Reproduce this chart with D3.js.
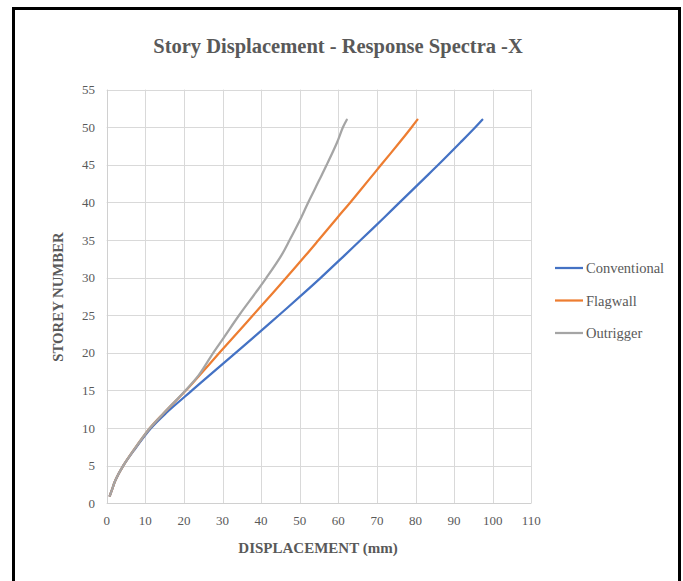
<!DOCTYPE html>
<html>
<head>
<meta charset="utf-8">
<script src="https://cdn.jsdelivr.net/npm/d3@7"></script>
<style>
  html, body { margin: 0; padding: 0; background: #fff; }
  svg { display: block; }
</style>
</head>
<body>
<svg id="chart" width="683" height="581"></svg>
<script>
// ---- data ----
const storeys      = [1, 2, 3, 5, 7, 10, 12, 15, 17, 20, 22, 25, 28, 30, 33, 35, 38, 40, 43, 45, 48, 50, 51];
const conventional = [0.8, 1.5, 2.2, 4.3, 7.0, 11.5, 15.4, 22.1, 26.6, 33.4, 37.9, 44.6, 51.2, 55.5, 61.7, 65.8, 71.9, 75.9, 81.9, 85.9, 91.7, 95.5, 97.3];
const flagwall     = [0.8, 1.5, 2.2, 4.3, 6.9, 11.2, 14.8, 20.5, 24.0, 29.2, 32.7, 37.9, 43.1, 46.5, 51.6, 54.9, 59.8, 63.1, 67.9, 71.1, 75.9, 79.0, 80.5];
const outrigger    = [0.8, 1.5, 2.2, 4.3, 6.9, 11.2, 14.8, 20.4, 23.8, 27.6, 30.3, 34.3, 38.6, 41.4, 45.3, 47.4, 50.4, 52.2, 55.1, 57.0, 59.7, 61.2, 62.2];
const seriesNames  = ["Conventional", "Flagwall", "Outrigger"];
const seriesColors = ["#4472C4", "#ED7D31", "#A5A5A5"];
const xTicks = [0, 10, 20, 30, 40, 50, 60, 70, 80, 90, 100, 110];
const yTicks = [0, 5, 10, 15, 20, 25, 30, 35, 40, 45, 50, 55];
const titleText = "Story Displacement - Response Spectra -X";
const xTitle = "DISPLACEMENT (mm)";
const yTitle = "STOREY NUMBER";

const svg = d3.select("#chart");
const font = "'Liberation Serif', 'Times New Roman', serif";
const textColor = "#595959";

// frame
svg.append("path")
  .attr("d", "M13.5,590 L13.5,8.5 L679.5,8.5 L679.5,590")
  .attr("fill", "none").attr("stroke", "#000").attr("stroke-width", 3);

const x = d3.scaleLinear().domain([0, 110]).range([106.7, 531.3]);
const y = d3.scaleLinear().domain([0, 55]).range([503.3, 89.6]);

// grid
const g = svg.append("g");
g.selectAll(".vg").data(xTicks.slice(1)).join("line")
  .attr("x1", d => Math.round(x(d)) + 0.5).attr("x2", d => Math.round(x(d)) + 0.5)
  .attr("y1", y(55)).attr("y2", y(0))
  .attr("stroke", "#d9d9d9").attr("stroke-width", 1);
g.selectAll(".hg").data(yTicks.slice(1)).join("line")
  .attr("x1", x(0)).attr("x2", x(110))
  .attr("y1", d => Math.round(y(d)) + 0.5).attr("y2", d => Math.round(y(d)) + 0.5)
  .attr("stroke", "#d9d9d9").attr("stroke-width", 1);
// axis lines
g.append("line").attr("x1", Math.round(x(0)) + 0.5).attr("x2", Math.round(x(0)) + 0.5)
  .attr("y1", y(55)).attr("y2", y(0)).attr("stroke", "#d0d0d0");
g.append("line").attr("x1", x(0)).attr("x2", x(110))
  .attr("y1", Math.round(y(0)) + 0.5).attr("y2", Math.round(y(0)) + 0.5).attr("stroke", "#d0d0d0");

// tick labels
svg.append("g").selectAll("text").data(yTicks).join("text")
  .attr("x", 95).attr("y", d => y(d) + 4.5)
  .attr("text-anchor", "end")
  .attr("font-family", font).attr("font-size", 13).attr("fill", textColor)
  .text(d => d);
svg.append("g").selectAll("text").data(xTicks).join("text")
  .attr("x", d => x(d)).attr("y", 525)
  .attr("text-anchor", "middle")
  .attr("font-family", font).attr("font-size", 13).attr("fill", textColor)
  .text(d => d);

// titles
svg.append("text").attr("x", 338).attr("y", 53).attr("text-anchor", "middle")
  .attr("font-family", font).attr("font-size", 20.5).attr("font-weight", "bold").attr("fill", textColor)
  .text(titleText);
svg.append("text").attr("x", 318).attr("y", 553).attr("text-anchor", "middle")
  .attr("font-family", font).attr("font-size", 15).attr("font-weight", "bold").attr("fill", textColor)
  .text(xTitle);
svg.append("text").attr("transform", "translate(63,297) rotate(-90)").attr("text-anchor", "middle")
  .attr("font-family", font).attr("font-size", 14.8).attr("font-weight", "bold").attr("fill", textColor)
  .text(yTitle);

// lines
const seriesValues = [conventional, flagwall, outrigger];
const line = d3.line().x(d => x(d[0])).y(d => y(d[1])).curve(d3.curveCatmullRom.alpha(0.5));
seriesValues.forEach((vals, i) => {
  const pts = storeys.map((s, j) => [vals[j], s]);
  svg.append("path").datum(pts)
    .attr("d", line).attr("fill", "none")
    .attr("stroke", seriesColors[i]).attr("stroke-width", 2.25)
    .attr("stroke-linecap", "round").attr("stroke-linejoin", "round");
});

// legend
const legendY = [268, 300.5, 333];
const lg = svg.append("g");
seriesNames.forEach((name, i) => {
  lg.append("line").attr("x1", 555).attr("x2", 583).attr("y1", legendY[i]).attr("y2", legendY[i])
    .attr("stroke", seriesColors[i]).attr("stroke-width", 2.25);
  lg.append("text").attr("x", 586).attr("y", legendY[i] + 5)
    .attr("font-family", font).attr("font-size", 14.5).attr("fill", textColor)
    .text(name);
});
</script>
</body>
</html>
